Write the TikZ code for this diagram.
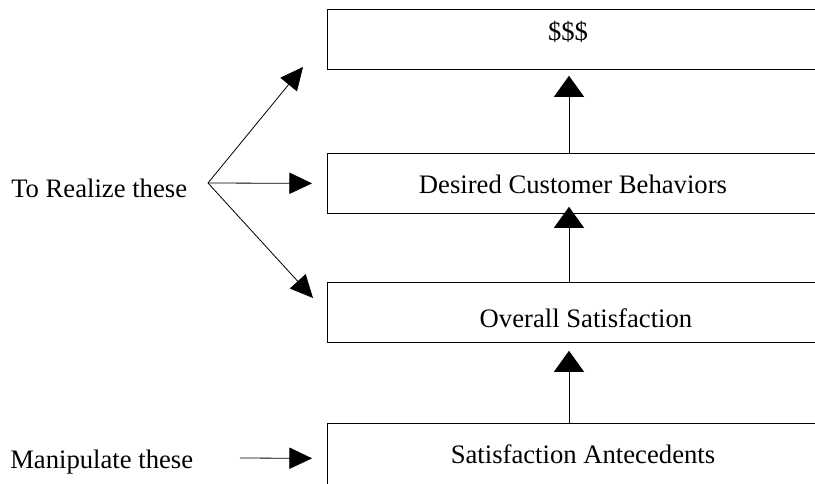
\documentclass[tikz,border=0pt]{standalone}
\usepackage{fontspec}
\setmainfont{Liberation Serif}
\usetikzlibrary{arrows.meta,calc}
\begin{document}
\begin{tikzpicture}[x=0.75pt,y=-0.75pt,
  box/.style={draw,line width=0.6pt,minimum width=373.5pt,minimum height=45pt,inner sep=0pt,anchor=north west},
  lbl/.style={font=\fontsize{20}{24}\selectfont,inner sep=0pt,anchor=base},
  varr/.style={line width=0.6pt,-{Triangle[length=15.75pt,width=22.5pt]}},
  harr/.style={line width=0.6pt,-{Triangle[length=17pt,width=16pt]}}]
\useasboundingbox (0,0) rectangle (815,483);
\clip (0,0) rectangle (815,483);
% boxes (right and bottom edges run off the picture)
\node[box] (money) at (327,9) {};
\node[box] (dcb) at (327,153) {};
\node[box] (os) at (327,282) {};
\node[box,minimum height=52.5pt] (sa) at (327,423) {};
% box texts
\node[lbl] (tmoney) at (568,40) {\$\$\$};
\node[lbl] (tdcb) at (573,193) {Desired Customer Behaviors};
\node[lbl] (tos) at (586,327) {Overall Satisfaction};
\node[lbl] (tsa) at (583,463) {Satisfaction Antecedents};
% left texts
\node[lbl,anchor=base west] (realize) at (11,197) {To Realize these};
\node[lbl,anchor=base west] (manip) at (10,468) {Manipulate these};
% vertical arrows
\coordinate (ax) at (569,0);
\draw[varr,shorten >=4.5pt] (dcb.north -| ax) -- (money.south -| ax);
\draw[varr,shorten >=-5.25pt] (os.north -| ax) -- (dcb.south -| ax);
\draw[varr,shorten >=6pt] (sa.north -| ax) -- (os.south -| ax);
% left arrows
\coordinate (br) at (208,183);
\coordinate (tA) at (303,67);
\coordinate (tC) at (313,298);
\coordinate (ms) at (240,458);
\draw[harr] (br) -- (tA);
\draw[harr,shorten >=11.25pt] (br) -- (dcb.west);
\draw[harr] (br) -- (tC);
\draw[harr,shorten >=11.25pt] (ms) -- (sa.west);
\end{tikzpicture}
\end{document}
